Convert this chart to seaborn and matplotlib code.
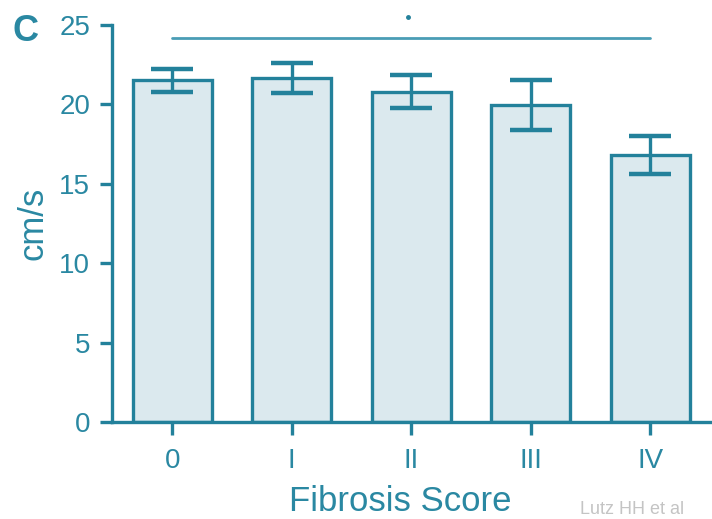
import matplotlib
matplotlib.use("Agg")
import matplotlib.pyplot as plt
import seaborn as sns
import pandas as pd

categories = ["0", "I", "II", "III", "IV"]
means = [21.5, 21.65, 20.8, 19.95, 16.8]
errors = [0.7, 0.95, 1.05, 1.55, 1.2]
yticks = [0, 5, 10, 15, 20, 25]

teal = "#23819b"
text_c = "#2a88a2"
fill = "#dbe9ee"

sns.set_theme(style="ticks")
plt.rcParams["font.family"] = ["Liberation Sans", "DejaVu Sans"]

df = pd.DataFrame({"score": categories, "v": means})

fig = plt.figure(figsize=(7.12, 5.19), dpi=100)
ax = fig.add_axes([0.158, 0.187, 0.839, 0.765])

sns.barplot(data=df, x="score", y="v", ax=ax, color=fill, width=0.66,
            edgecolor=teal, linewidth=2.4, errorbar=None, saturation=1)
ax.errorbar(range(len(categories)), means, yerr=errors, fmt="none",
            ecolor=teal, elinewidth=2.4, capsize=15, capthick=3.2, zorder=5)

ax.set_xlim(-0.5, 4.5)
ax.set_ylim(0, 25)
ax.set_yticks(yticks)
ax.set_yticklabels([str(t) for t in yticks])

for side in ["top", "right"]:
    ax.spines[side].set_visible(False)
for side in ["left", "bottom"]:
    ax.spines[side].set_color(teal)
    ax.spines[side].set_linewidth(2.4)

ax.tick_params(axis="both", colors=teal, width=2.4, length=9, labelsize=20,
               labelcolor=text_c)
ax.tick_params(axis="x", pad=10)
ax.tick_params(axis="y", pad=7)
ax.set_xlabel("Fibrosis Score", fontsize=25, color=text_c, labelpad=8)
ax.xaxis.label.set_x(0.482)
ax.set_ylabel("cm/s", fontsize=25, color=text_c, labelpad=7)

# significance line
ax.plot([0, 4], [24.2, 24.2], color="#4a9db5", lw=2.0, clip_on=False,
        solid_capstyle="round")
ax.plot([1.97], [25.5], marker="o", ms=2.5, color=teal, clip_on=False)

fig.text(0.018, 0.94, "C", fontsize=26, fontweight="bold", color=text_c,
         ha="left", va="center")
fig.text(0.815, 0.002, "Lutz HH et al", fontsize=13, color="#c4c4c4",
         ha="left", va="bottom")

fig.savefig("out.png", dpi=100)
